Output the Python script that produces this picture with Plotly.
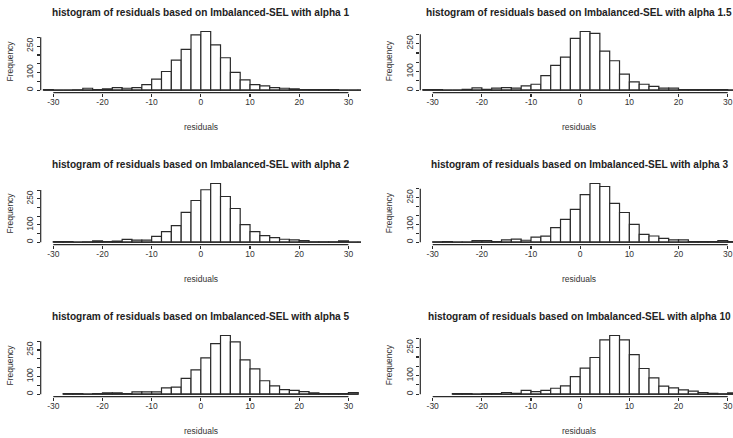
import plotly.graph_objects as go

# ---------------- data ----------------
bin_width = 2
alpha_labels = ["1", "1.5", "2", "3", "5", "10"]

first_break_a1 = -32
counts_a1 = [3, 0, 0, 2, 11, 4, 7, 15, 11, 15, 32, 63, 106, 171, 232, 314,
             333, 257, 184, 101, 59, 32, 25, 15, 11, 7, 3, 3, 3, 3, 0, 0, 1]

first_break_a15 = -32
counts_a15 = [3, 3, 0, 0, 5, 12, 5, 11, 14, 11, 23, 32, 78, 133, 178, 278,
              315, 305, 210, 158, 86, 45, 32, 21, 11, 11, 3, 3, 3, 3, 3, 0, 1]

first_break_a2 = -30
counts_a2 = [3, 3, 0, 2, 8, 3, 7, 16, 12, 12, 34, 61, 96, 172, 240, 302,
             338, 263, 194, 101, 61, 38, 26, 17, 13, 9, 2, 2, 2, 8, 0, 1]

first_break_a3 = -30
counts_a3 = [2, 3, 1, 1, 9, 9, 4, 13, 17, 11, 28, 34, 82, 128, 185, 268,
             330, 313, 218, 167, 100, 44, 35, 21, 13, 13, 3, 3, 3, 9, 4]

first_break_a5 = -28
counts_a5 = [4, 4, 0, 4, 7, 7, 4, 13, 13, 13, 36, 40, 90, 138, 206, 286,
             332, 296, 194, 143, 76, 47, 26, 22, 15, 7, 3, 3, 3, 9]

first_break_a10 = -26
counts_a10 = [3, 3, 1, 3, 3, 9, 5, 20, 14, 20, 32, 45, 94, 140, 197, 292,
              315, 292, 212, 138, 88, 43, 34, 23, 16, 9, 5, 2, 7]

x_tick_vals = [-30, -20, -10, 0, 10, 20, 30]
x_tick_text = ["-30", "-20", "-10", "0", "10", "20", "30"]
y_tick_vals = [0, 50, 100, 150, 200, 250, 300]
y_tick_text = ["0", "", "100", "", "", "250", ""]

panels = [
    (first_break_a1, counts_a1),
    (first_break_a15, counts_a15),
    (first_break_a2, counts_a2),
    (first_break_a3, counts_a3),
    (first_break_a5, counts_a5),
    (first_break_a10, counts_a10),
]

# ---------------- layout geometry (pixels) ----------------
W, H = 733, 438
cols = [  # left px, right px, x range
    (40.7, 361.0, [-32.56, 32.56]),
    (420.3, 733.0, [-32.52, 31.08]),
]
rows = [  # top px, bottom px
    (29.15, 92.55),
    (181.15, 244.55),
    (333.15, 396.55),
]
title_centers = [200.9, 579.0]

INK = "#2a2a2a"
TXT = "#333333"
FONT = "Liberation Sans, Arial, sans-serif"

fig = go.Figure()
layout = dict(
    width=W, height=H,
    margin=dict(l=0, r=0, t=0, b=0),
    paper_bgcolor="white", plot_bgcolor="white",
    showlegend=False,
    font=dict(family=FONT, size=8.5, color=TXT),
)
annotations = []
shapes = []

for i, (fb, counts) in enumerate(panels):
    r, c = divmod(i, 2)
    k = i + 1
    xa = "x" if k == 1 else f"x{k}"
    ya = "y" if k == 1 else f"y{k}"
    left, right, xr = cols[c]
    top, bottom = rows[r]
    m = max(counts)

    centers = [fb + bin_width * j + bin_width / 2 for j in range(len(counts))]
    last_break = fb + bin_width * len(counts)

    # baseline drawn by zero-height bins in R
    fig.add_trace(go.Scatter(
        x=[fb, last_break], y=[0, 0], mode="lines",
        line=dict(color=INK, width=1.2), hoverinfo="skip",
        xaxis=xa, yaxis=ya))
    fig.add_trace(go.Bar(
        x=centers, y=counts, width=[bin_width] * len(counts),
        marker=dict(color="white", line=dict(color=INK, width=1.2)),
        xaxis=xa, yaxis=ya))

    layout["xaxis" if k == 1 else f"xaxis{k}"] = dict(
        domain=[left / W, right / W], range=xr, anchor=ya,
        showgrid=False, zeroline=False, showline=False,
        ticks="outside", ticklen=3, tickwidth=1.2, tickcolor=INK,
        tickvals=x_tick_vals, ticktext=x_tick_text, ticklabelstandoff=-2,
        tickfont=dict(size=8.5, color=TXT), fixedrange=True,
    )
    layout["yaxis" if k == 1 else f"yaxis{k}"] = dict(
        domain=[1 - bottom / H, 1 - top / H], range=[-0.04 * m, 1.04 * m],
        anchor=xa,
        showgrid=False, zeroline=False, showline=False,
        ticks="outside", ticklen=3, tickwidth=1.2, tickcolor=INK,
        tickvals=y_tick_vals, ticktext=y_tick_text, tickangle=-90,
        tickfont=dict(size=8.5, color=TXT), fixedrange=True,
    )
    # R-style axis lines spanning first..last tick
    shapes.append(dict(type="line", xref=xa, yref=f"{ya} domain",
                       x0=x_tick_vals[0], x1=x_tick_vals[-1], y0=0, y1=0,
                       line=dict(color=INK, width=1.2)))
    shapes.append(dict(type="line", xref=f"{xa} domain", yref=ya,
                       x0=0, x1=0, y0=y_tick_vals[0], y1=y_tick_vals[-1],
                       line=dict(color=INK, width=1.2)))

    annotations.append(dict(
        text=f"<b>histogram of residuals based on Imbalanced-SEL with alpha {alpha_labels[i]}</b>",
        xref="paper", yref="paper", x=title_centers[c] / W, y=1 - (top - 16.7) / H,
        xanchor="center", yanchor="middle", showarrow=False,
        font=dict(size=10.1, color="#222222", family=FONT)))
    annotations.append(dict(
        text="residuals", xref="paper", yref="paper",
        x=title_centers[c] / W, y=1 - (bottom + 34.2) / H,
        xanchor="center", yanchor="middle", showarrow=False,
        font=dict(size=8.5, color=TXT, family=FONT)))
    annotations.append(dict(
        text="Frequency", xref="paper", yref="paper",
        x=(left - 31.0) / W, y=1 - ((top + bottom) / 2) / H,
        xanchor="center", yanchor="middle", showarrow=False, textangle=-90,
        font=dict(size=8.5, color=TXT, family=FONT)))

layout["annotations"] = annotations
layout["shapes"] = shapes
fig.update_layout(**layout)
fig.write_html(
    "out.html",
    config={"displayModeBar": False, "staticPlot": True},
    post_script="document.body.style.margin='0';document.body.style.overflow='hidden';",
)
